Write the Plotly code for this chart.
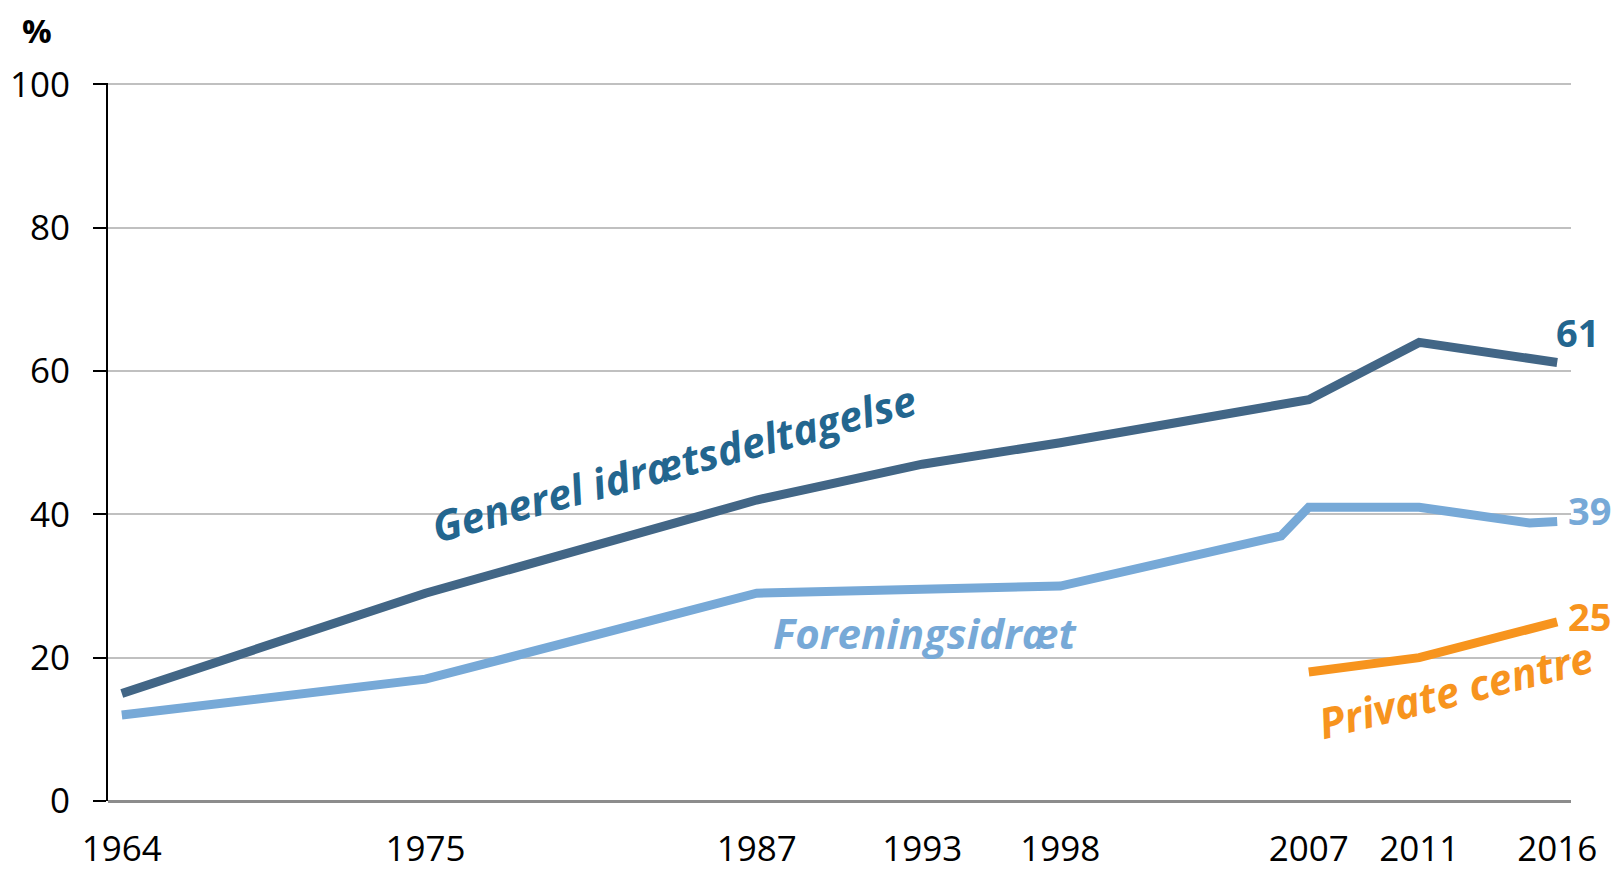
import plotly.graph_objects as go

# Data
gen_years = [1964, 1975, 1987, 1993, 1998, 2007, 2011, 2016]
gen_vals = [15, 29, 42, 47, 50, 56, 64, 61.2]

for_years = [1964, 1975, 1987, 1998, 2006, 2007, 2011, 2015, 2016]
for_vals = [12, 17, 29, 30, 37, 41, 41, 38.8, 39]

priv_years = [2007, 2011, 2016]
priv_vals = [18, 20, 25]

tick_years = [1964, 1975, 1987, 1993, 1998, 2007, 2011, 2016]
y_ticks = [0, 20, 40, 60, 80, 100]

C_GEN = "#426686"
C_GEN_TXT = "#23668F"
C_FOR = "#77A9D7"
C_PRIV = "#F7941E"
FONT = "Open Sans"

fig = go.Figure()
fig.add_trace(go.Scatter(x=gen_years, y=gen_vals, mode="lines",
                         line=dict(color=C_GEN, width=9), hoverinfo="skip"))
fig.add_trace(go.Scatter(x=for_years, y=for_vals, mode="lines",
                         line=dict(color=C_FOR, width=9), hoverinfo="skip"))
fig.add_trace(go.Scatter(x=priv_years, y=priv_vals, mode="lines",
                         line=dict(color=C_PRIV, width=9), hoverinfo="skip"))

ann = []
# series labels
ann.append(dict(x=1984.0, y=47.3, text="<b><i>Generel idrætsdeltagelse</i></b>",
                textangle=-15, font=dict(color=C_GEN_TXT, size=42, family=FONT),
                showarrow=False))
ann.append(dict(x=1993.1, y=23.5, text="<b><i>Foreningsidræt</i></b>",
                font=dict(color=C_FOR, size=42, family=FONT), showarrow=False))
ann.append(dict(x=2012.3, y=15.6, text="<b><i>Private centre</i></b>", textangle=-14,
                font=dict(color=C_PRIV, size=42, family=FONT), showarrow=False))
# end value labels
ann.append(dict(x=gen_years[-1], y=gen_vals[-1], text="<b>61</b>", xshift=20, yshift=30,
                font=dict(color=C_GEN_TXT, size=38, family=FONT), showarrow=False))
ann.append(dict(x=for_years[-1], y=for_vals[-1], text="<b>39</b>", xshift=32, yshift=12,
                font=dict(color=C_FOR, size=38, family=FONT), showarrow=False))
ann.append(dict(x=priv_years[-1], y=priv_vals[-1], text="<b>25</b>", xshift=32, yshift=6,
                font=dict(color=C_PRIV, size=38, family=FONT), showarrow=False))
# unit label
ann.append(dict(xref="paper", yref="paper", x=-0.0485, y=1.0738, xanchor="center",
                yanchor="middle", text="<b>%</b>",
                font=dict(color="black", size=33, family=FONT), showarrow=False))

fig.update_layout(
    width=1611, height=864,
    margin=dict(l=100, r=48, t=75, b=71, autoexpand=False),
    plot_bgcolor="white", paper_bgcolor="white",
    showlegend=False,
    annotations=ann,
    font=dict(family=FONT, color="black"),
    xaxis=dict(range=[1963.5, 2016.5], tickmode="array", tickvals=tick_years,
               ticktext=[str(t) for t in tick_years], showgrid=False, zeroline=False,
               showline=False, ticks="", tickfont=dict(size=35, color="black"),
               ticklabelstandoff=24, automargin=False),
    yaxis=dict(range=[0, 100.2], tickmode="array", tickvals=y_ticks,
               showgrid=True, gridcolor="#C0C0C0", gridwidth=2, zeroline=True,
               zerolinecolor="#8C8C8C", zerolinewidth=3,
               showline=True, linecolor="black", linewidth=2,
               ticks="outside", ticklen=13, tickwidth=2, tickcolor="black",
               tickfont=dict(size=35, color="black"), ticklabelstandoff=16,
               automargin=False),
)

fig.write_html("out.html")
